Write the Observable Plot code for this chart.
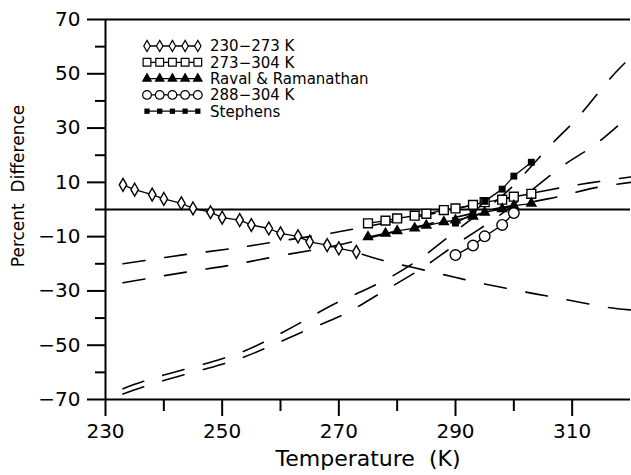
<!DOCTYPE html>
<html><head><meta charset="utf-8">
<script src="https://cdn.jsdelivr.net/npm/d3@7"></script>
<script src="https://cdn.jsdelivr.net/npm/@observablehq/plot@0.6"></script>
<style>body{margin:0;background:#fff}svg{display:block}</style>
</head><body><div id="chart"></div>
<script>
// ---- data ----
const diamondT = [233,235,238,240,243,245,248,250,253,255,258,260,263,265,268,270,273];
const diamondV = [9.1,7.3,5.5,3.9,2.3,0.4,-1.0,-3.0,-3.9,-5.7,-7.0,-8.8,-9.9,-11.9,-13.1,-14.3,-15.6];

const squareT = [275,278,280,283,285,288,290,293,295,298,300,303];
const squareV = [-5.1,-4.1,-3.3,-2.3,-1.6,-0.2,0.4,1.7,2.7,3.6,4.7,5.8];

const triangleT = [275,278,280,283,285,288,290,293,295,298,300,303];
const triangleV = [-10.1,-8.8,-7.9,-6.9,-5.9,-4.6,-3.9,-2.5,-1.1,0.2,1.4,2.2];

const circleT = [290,293,295,298,300];
const circleV = [-16.8,-13.3,-9.9,-5.7,-1.3];

const stephensT = [290,293,295,298,300,303];
const stephensV = [-5.0,-1.5,3.0,7.5,12.3,17.4];

// dashed curves
const curveAT = [233,240,250,257,264,270,277,284,290,295,300,306,311,316,320];
const curveAV = [-66,-61,-55,-49,-41,-34,-27,-18,-8,0,9,23,34,47,56];
const curveBT = [233,240,250,257,265,271,277,284,290,297,303,309,314,320];
const curveBV = [-68,-63,-57,-51.5,-44,-38.5,-31,-22,-13,-3,7,17,24,35];
const curveCT = [233,244,252,260,268,274,285,295,306,313,320];
const curveCV = [-20,-16.5,-14.3,-11.6,-9,-6.6,-2,2.5,7.2,9.8,12];
const curveDT = [233,244,252,260,268,274,285,295,306,313,320];
const curveDV = [-27,-23,-20.3,-17,-14,-11,-5.5,-0.5,4,7.6,10];
const curveET = [274,278,286,293,301,308,316,320];
const curveEV = [-16.5,-19,-23,-26.5,-30,-32.8,-36,-37];

const yMajor = [70,50,30,10,-10,-30,-50,-70];
const yMinor = [60,40,20,0,-20,-40,-60];
const xMajor = [230,250,270,290,310];
const xMinor = [240,260,280,300];

const legendLabels = ["230\u2212273 K","273\u2212304 K","Raval & Ramanathan","288\u2212304 K","Stephens"];
const legendSymbols = ["diamond","square","triangle","circle","smallsquare"];
const yTitle = "Percent\u00a0 Difference";
const xTitle = "Temperature\u00a0 (K)";

// ---- tables ----
const zip = (T, V) => T.map((t, i) => ({t, v: V[i]}));
const diamonds = zip(diamondT, diamondV);
const squares = zip(squareT, squareV);
const triangles = zip(triangleT, triangleV);
const circles = zip(circleT, circleV);
const stephens = zip(stephensT, stephensV);
const curves = [zip(curveAT, curveAV), zip(curveBT, curveBV), zip(curveCT, curveCV), zip(curveDT, curveDV), zip(curveET, curveEV)];

const fmt = d => d < 0 ? "\u2212" + (-d) : String(d);
const FONT = "DejaVu Sans";

const plot = Plot.plot({
  width: 631, height: 475,
  marginLeft: 105, marginRight: 1, marginTop: 19, marginBottom: 76,
  style: {fontFamily: FONT, fontSize: "20px", background: "#fff", color: "#000"},
  x: {domain: [230, 320]},
  y: {domain: [-70, 70]},
  marks: [
    ...curves.map(c => Plot.line(c, {x: "t", y: "v", stroke: "#000", strokeWidth: 1.6, strokeDasharray: "22,20", curve: "natural"})),
    Plot.ruleY([0], {stroke: "#000", strokeWidth: 2.2}),
    Plot.ruleY([70], {stroke: "#000", strokeWidth: 2}),
    Plot.ruleY([-70], {stroke: "#000", strokeWidth: 2}),
    Plot.ruleX([230], {stroke: "#000", strokeWidth: 2}),
    Plot.line(diamonds, {x: "t", y: "v", stroke: "#000", strokeWidth: 1.3}),
    Plot.dot(diamonds, {x: "t", y: "v", symbol: "diamond", r: 3.9, fill: "#fff", stroke: "#000", strokeWidth: 1.4}),
    Plot.line(squares, {x: "t", y: "v", stroke: "#000", strokeWidth: 1.3}),
    Plot.dot(squares, {x: "t", y: "v", symbol: "square", r: 5, fill: "#fff", stroke: "#000", strokeWidth: 1.4}),
    Plot.line(triangles, {x: "t", y: "v", stroke: "#000", strokeWidth: 1.3}),
    Plot.dot(triangles, {x: "t", y: "v", symbol: "triangle", r: 4.3, fill: "#000", stroke: "none"}),
    Plot.line(circles, {x: "t", y: "v", stroke: "#000", strokeWidth: 1.3}),
    Plot.dot(circles, {x: "t", y: "v", symbol: "circle", r: 5.3, fill: "#fff", stroke: "#000", strokeWidth: 1.4}),
    Plot.line(stephens, {x: "t", y: "v", stroke: "#000", strokeWidth: 1.3}),
    Plot.dot(stephens, {x: "t", y: "v", symbol: "square", r: 3.9, fill: "#000", stroke: "none"}),
    Plot.axisY(yMajor, {tickSize: 18, tickPadding: 7, strokeWidth: 2, tickFormat: fmt, label: null}),
    Plot.axisY(yMinor, {tickSize: 10, strokeWidth: 2, tickFormat: () => "", label: null}),
    Plot.axisX(xMajor, {tickSize: 17, tickPadding: 7, strokeWidth: 2, label: null}),
    Plot.axisX(xMinor, {tickSize: 12, strokeWidth: 2, tickFormat: () => "", label: null})
  ]
});
document.getElementById("chart").appendChild(plot);

const svg = d3.select(plot);
// ---- axis titles ----
svg.append("text").attr("transform", "translate(24,186) rotate(-90)")
  .attr("text-anchor", "middle").attr("font-family", FONT).attr("font-size", 17).text(yTitle);
svg.append("text").attr("x", 368).attr("y", 466)
  .attr("text-anchor", "middle").attr("font-family", FONT).attr("font-size", 22).text(xTitle);

// ---- legend drawn inside the plot (top-left) ----
const lg = svg.append("g").attr("font-family", FONT).attr("font-size", 15).attr("text-anchor", "start");
const symGen = {
  diamond: d3.symbol(d3.symbolDiamond, 36)(),
  square: d3.symbol(d3.symbolSquare, 60)(),
  triangle: d3.symbol(d3.symbolTriangle, 48)(),
  circle: d3.symbol(d3.symbolCircle, 60)(),
  smallsquare: d3.symbol(d3.symbolSquare, 28)()
};
legendLabels.forEach((lab, i) => {
  const y = 46 + i * 16.3;
  const s = legendSymbols[i];
  const g = lg.append("g");
  g.append("line").attr("x1", 146).attr("x2", 200).attr("y1", y).attr("y2", y).attr("stroke", "#000").attr("stroke-width", 1.3);
  for (let k = 0; k < 5; k++) {
    const cx = 147 + k * 12.7;
    const filled = s === "triangle" || s === "smallsquare";
    g.append("path").attr("d", symGen[s]).attr("transform", `translate(${cx},${y})`)
      .attr("fill", filled ? "#000" : "#fff").attr("stroke", filled ? "none" : "#000").attr("stroke-width", 1.2);
  }
  g.append("text").attr("x", 210).attr("y", y).attr("dy", "0.36em").attr("text-anchor", "start").text(lab);
});
</script>
</body></html>
